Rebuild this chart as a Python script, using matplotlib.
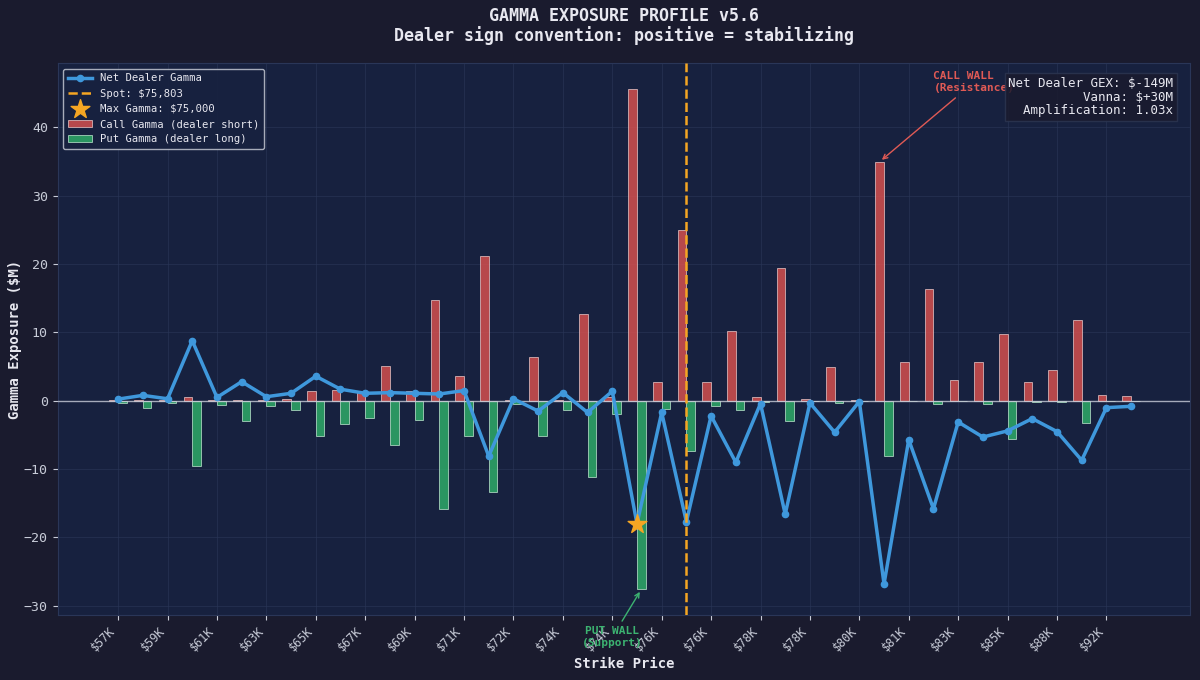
import numpy as np
import matplotlib
matplotlib.use("Agg")
import matplotlib.pyplot as plt

plt.rcParams['font.family'] = ['DejaVu Sans Mono', 'DejaVu Sans']

# ---- data ----
strikes = [57000, 58000, 59000, 60000, 61000, 62000, 63000, 64000, 65000, 66000,
           67000, 68000, 69000, 70000, 71000, 71500, 72000, 73000, 73500, 74000,
           74500, 75000, 75500, 76000, 76500, 77000, 77500, 78000, 78500, 79000,
           80000, 80500, 81000, 82000, 83000, 84000, 85000, 86000, 88000, 90000,
           92000, 95000]
call_gamma = [0.05, 0.05, 0.05, 0.6, 0.05, 0.05, 0.1, 0.3, 1.4, 1.6,
              1.3, 5.1, 1.5, 14.7, 3.6, 21.2, 0.1, 6.4, 0.1, 12.7,
              0.5, 45.6, 2.8, 25.0, 2.8, 10.2, 0.6, 19.5, 0.3, 4.9,
              0.05, 35.0, 5.7, 16.3, 3.1, 5.7, 9.8, 2.7, 4.5, 11.8,
              0.9, 0.7]
put_gamma = [-0.3, -1.0, -0.3, -9.6, -0.6, -3.0, -0.7, -1.4, -5.1, -3.4,
             -2.5, -6.5, -2.8, -15.9, -5.2, -13.3, -0.4, -5.1, -1.3, -11.2,
             -1.9, -27.6, -1.2, -7.3, -0.7, -1.3, -0.2, -3.0, -0.05, -0.3,
             -0.05, -8.1, -0.05, -0.4, -0.05, -0.4, -5.6, -0.2, -0.1, -3.2,
             -0.05, -0.05]
net_gamma = [0.25, 0.8, 0.3, 8.8, 0.5, 2.8, 0.6, 1.1, 3.6, 1.7,
             1.1, 1.2, 1.1, 1.0, 1.5, -8.1, 0.3, -1.5, 1.2, -1.7,
             1.4, -18.0, -1.7, -17.7, -2.2, -9.0, -0.4, -16.6, -0.3, -4.6,
             -0.1, -26.8, -5.7, -15.8, -3.1, -5.3, -4.4, -2.6, -4.5, -8.7,
             -1.0, -0.8]
spot = 75803
max_gamma_strike = 75000
call_wall_strike = 80500
put_wall_strike = 75000
net_gex = -149
vanna = 30
amplification = 1.03

# ---- styling ----
FIG_BG = '#1a1b2e'
AX_BG = '#17213f'
TXT = '#e8e8f0'
RED = '#e0524f'
GREEN = '#2fb36a'
BLUE = '#3f98dc'
ORANGE = '#f5a623'

x = np.arange(len(strikes))
fig, ax = plt.subplots(figsize=(12, 6.8), dpi=100)
fig.patch.set_facecolor(FIG_BG)
ax.set_facecolor(AX_BG)
fig.subplots_adjust(left=0.048, right=0.992, top=0.907, bottom=0.096)

w = 0.35
ax.bar(x - w / 2, call_gamma, width=w, color=RED, alpha=0.8,
       edgecolor='#f0d0d0', linewidth=0.6, label='Call Gamma (dealer short)', zorder=2)
ax.bar(x + w / 2, put_gamma, width=w, color=GREEN, alpha=0.8,
       edgecolor='#c8f0d8', linewidth=0.6, label='Put Gamma (dealer long)', zorder=2)
ax.plot(x, net_gamma, color=BLUE, linewidth=2.5, marker='o', markersize=4.5,
        label='Net Dealer Gamma', zorder=4)
ax.axhline(0, color='#c8ccd8', linewidth=1.0, alpha=0.8, zorder=3)

strikes_arr = np.array(strikes)
spot_idx = int(np.argmin(np.abs(strikes_arr - spot)))
ax.axvline(spot_idx, color=ORANGE, linestyle='--', linewidth=1.8,
           label=f'Spot: ${spot:,.0f}', zorder=5)

mg = strikes.index(max_gamma_strike)
ax.scatter([mg], [net_gamma[mg]], marker='*', s=200, color=ORANGE, zorder=6,
           label=f'Max Gamma: ${max_gamma_strike:,.0f}')

# Call wall annotation
cw = strikes.index(call_wall_strike)
ax.annotate('CALL WALL\n(Resistance)', xy=(cw - w / 2, call_gamma[cw]),
            xytext=(cw + 2.0, 45.0), color='#e05a55', fontsize=8, fontweight='bold',
            ha='left', va='bottom', linespacing=1.25,
            arrowprops=dict(arrowstyle='->', color='#e05a55', lw=1.0), zorder=7)
# Put wall annotation
pw = strikes.index(put_wall_strike)
ax.annotate('PUT WALL\n(Support)', xy=(pw + w / 2, put_gamma[pw]),
            xytext=(pw - 1.0, -34.6), color='#3cb371', fontsize=8, fontweight='bold',
            ha='center', va='center', annotation_clip=False, linespacing=1.25,
            arrowprops=dict(arrowstyle='->', color='#3cb371', lw=1.0), zorder=7)

# Info box
info = (f'Net Dealer GEX: ${net_gex:.0f}M'
        + f'\nVanna: ${vanna:+.0f}M\nAmplification: {amplification:.2f}x')
ax.text(0.985, 0.975, info, transform=ax.transAxes, ha='right', va='top',
        fontsize=9, color=TXT, zorder=10, linespacing=1.05,
        bbox=dict(boxstyle='square,pad=0.3', facecolor='#1a1b2e', alpha=0.85,
                  edgecolor='#2c3550'))

# axes
tick_pos = x[::2]
tick_labels = [f'${strikes[i] / 1000:.0f}K' for i in tick_pos]
ax.set_xticks(tick_pos)
ax.set_xticklabels(tick_labels, rotation=45, ha='right', fontsize=8.5, color='#c8ccd8')
ax.tick_params(axis='y', colors='#c8ccd8', labelsize=9.5)
ax.tick_params(axis='x', colors='#c8ccd8')
ax.set_xlim(-2.45, 43.4)
ax.set_ylim(-31.3, 49.4)
ax.set_yticks([-30, -20, -10, 0, 10, 20, 30, 40])
ax.grid(True, color='#2a3658', linewidth=0.6, alpha=0.7, zorder=0)
ax.set_axisbelow(True)
for s in ax.spines.values():
    s.set_color('#2a3658')

ax.set_xlabel('Strike Price', color=TXT, fontsize=10, fontweight='bold', labelpad=2)
ax.set_ylabel('Gamma Exposure ($M)', color=TXT, fontsize=10, fontweight='bold', labelpad=1)
ax.set_title('GAMMA EXPOSURE PROFILE v5.6\nDealer sign convention: positive = stabilizing',
             color=TXT, fontsize=12, fontweight='bold', pad=16, linespacing=1.05)

# legend order
handles, labels = ax.get_legend_handles_labels()
order = ['Net Dealer Gamma', f'Spot: ${spot:,.0f}', f'Max Gamma: ${max_gamma_strike:,.0f}',
         'Call Gamma (dealer short)', 'Put Gamma (dealer long)']
hd = dict(zip(labels, handles))
leg = ax.legend([hd[o] for o in order], order, loc='upper left', fontsize=7.6,
                facecolor='#17213f', edgecolor='#b8bcc8', framealpha=0.9,
                labelcolor=TXT, borderpad=0.45, handlelength=2.3, labelspacing=0.5)
leg.get_frame().set_linewidth(1.0)

fig.savefig('out.png', dpi=100, facecolor=FIG_BG)
